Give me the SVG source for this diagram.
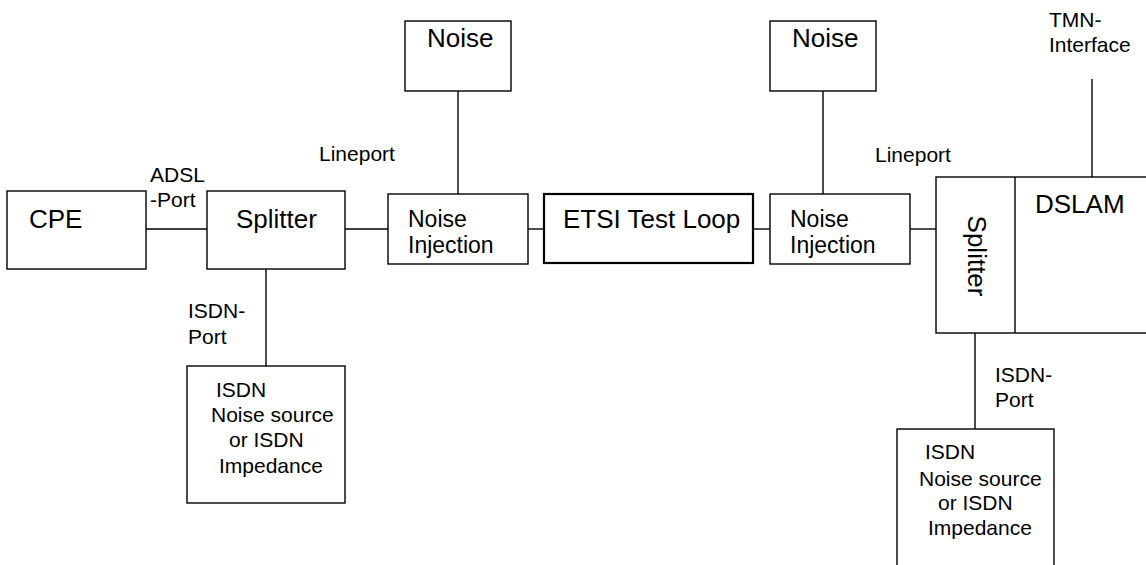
<svg xmlns="http://www.w3.org/2000/svg" width="1146" height="565" viewBox="0 0 1146 565">
<style>
.box{fill:#fff;stroke:#000;stroke-width:1.4}
.thick{stroke-width:2.2}
.ln{stroke:#000;stroke-width:1.4;fill:none}
text{font-family:"Liberation Sans",Arial,sans-serif;fill:#000}
.big{font-size:26px}
.mid{font-size:23px}
.sm{font-size:21px}
</style>
<rect width="1146" height="565" fill="#fff"/>
<g id="connectors">
<line class="ln" x1="146" y1="229" x2="207" y2="229"/>
<line class="ln" x1="345" y1="229" x2="388" y2="229"/>
<line class="ln" x1="266" y1="269" x2="266" y2="366"/>
<line class="ln" x1="458" y1="91" x2="458" y2="194"/>
<line class="ln" x1="528" y1="229" x2="544" y2="229"/>
<line class="ln" x1="753" y1="229" x2="770" y2="229"/>
<line class="ln" x1="823" y1="91" x2="823" y2="194"/>
<line class="ln" x1="910" y1="229" x2="936" y2="229"/>
<line class="ln" x1="1092" y1="79" x2="1092" y2="177"/>
<line class="ln" x1="975" y1="333" x2="975" y2="429"/>
</g>
<g id="labels">
<text class="sm" x="150" y="182">ADSL</text>
<text class="sm" x="150" y="207">-Port</text>
<text class="sm" x="188" y="318">ISDN-</text>
<text class="sm" x="188" y="344">Port</text>
<text class="sm" x="319" y="161">Lineport</text>
<text class="sm" x="875" y="162">Lineport</text>
<text class="sm" x="1049" y="27">TMN-</text>
<text class="sm" x="1049" y="52">Interface</text>
<text class="sm" x="995" y="382">ISDN-</text>
<text class="sm" x="995" y="407">Port</text>
</g>
<g id="cpe">
<rect class="box" x="7" y="191" width="139" height="78"/>
<text class="big" x="29" y="228">CPE</text>
</g>
<g id="splitter1">
<rect class="box" x="207" y="191" width="138" height="78"/>
<text class="big" x="236" y="228">Splitter</text>
</g>
<g id="isdn1">
<rect class="box" x="187" y="366" width="158" height="137"/>
<text class="sm" x="216" y="397">ISDN</text>
<text class="sm" x="211" y="422">Noise source</text>
<text class="sm" x="229" y="447">or ISDN</text>
<text class="sm" x="219" y="473">Impedance</text>
</g>
<g id="noise1">
<rect class="box" x="405" y="21" width="106" height="70"/>
<text class="big" x="427" y="47">Noise</text>
</g>
<g id="ni1">
<rect class="box" x="388" y="194" width="140" height="70"/>
<text class="mid" x="408" y="227">Noise</text>
<text class="mid" x="408" y="253">Injection</text>
</g>
<g id="etsi">
<rect class="box thick" x="544" y="194" width="209" height="69"/>
<text class="big" x="563" y="228">ETSI Test Loop</text>
</g>
<g id="noise2">
<rect class="box" x="770" y="21" width="106" height="70"/>
<text class="big" x="792" y="47">Noise</text>
</g>
<g id="ni2">
<rect class="box" x="770" y="194" width="140" height="70"/>
<text class="mid" x="790" y="227">Noise</text>
<text class="mid" x="790" y="253">Injection</text>
</g>
<g id="dslam">
<rect class="box" x="936" y="177" width="220" height="156"/>
<line class="ln" x1="1015" y1="177" x2="1015" y2="333"/>
<text class="big" transform="translate(968,256) rotate(90)" text-anchor="middle">Splitter</text>
<text class="big" x="1035" y="213">DSLAM</text>
</g>
<g id="isdn2">
<rect class="box" x="897" y="429" width="157" height="160"/>
<text class="sm" x="925" y="459">ISDN</text>
<text class="sm" x="919" y="486">Noise source</text>
<text class="sm" x="938" y="510">or ISDN</text>
<text class="sm" x="928" y="535">Impedance</text>
</g>
</svg>
